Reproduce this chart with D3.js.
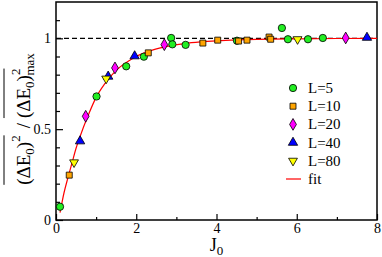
<!DOCTYPE html>
<html>
<head>
<meta charset="utf-8">
<script src="https://cdn.jsdelivr.net/npm/d3@7/dist/d3.min.js"></script>
<style>
body{margin:0;background:#fff;}
svg{display:block;}
svg text{font-family:"Liberation Serif","Times New Roman",serif;}
</style>
</head>
<body>
<svg id="chart"></svg>
<script>
// data
var seriesNames = ["L=5","L=10","L=20","L=40","L=80"];
var L5J  = [0.10,1.01,1.75,2.19,2.87,2.90,3.23,4.51,5.63,5.78,6.28,6.65];
var L5Y  = [0.073,0.68,0.846,0.899,1.002,0.967,0.964,0.987,1.057,0.995,0.995,1.002];
var L10J = [0.33,2.30,3.66,4.03,4.55,4.76,5.31,5.35];
var L10Y = [0.247,0.92,0.974,0.99,0.985,0.99,1.007,0.995];
var L20J = [0.74,1.47,2.70,7.22];
var L20Y = [0.571,0.837,0.965,1.002];
var L40J = [0.60,1.30,1.96,7.75];
var L40Y = [0.434,0.79,0.902,1.004];
var L80J = [0.45,1.25,6.02];
var L80Y = [0.317,0.778,0.995];
var fitJ = [0.1,0.2,0.3,0.4,0.5,0.6,0.8,1.0,1.2,1.4,1.6,1.8,2.0,2.4,2.8,3.2,3.6,4.0,4.5,5,6,7,8];
var fitY = [0.04,0.15,0.235,0.315,0.395,0.46,0.575,0.675,0.745,0.80,0.843,0.874,0.90,0.935,0.957,0.971,0.98,0.986,0.991,0.994,0.997,0.999,1.0];
var xMajor = [0,2,4,6,8];
var xMinor = [1,3,5,7];
var yMajor = [0,0.5,1];
var yMinor = [0.1,0.2,0.3,0.4,0.6,0.7,0.8,0.9,1.1];

var screen = {width:382,height:257};
var margins = {left:56,right:5,top:2,bottom:37};
var graph = {
    width:screen.width-margins.left-margins.right,
    height:screen.height-margins.top-margins.bottom
};

var svg = d3.select("#chart")
    .attr("width",screen.width)
    .attr("height",screen.height);

var xScale = d3.scaleLinear().domain([0,8]).range([0,graph.width]);
var yScale = d3.scaleLinear().domain([0,1.2]).range([graph.height,0]);

var target = svg.append("g")
    .attr("transform","translate("+margins.left+","+margins.top+")");

var zip = function(xs,ys){
    return xs.map(function(x,i){return {x:x,y:ys[i]};});
}

var styles = [
    {name:seriesNames[0],pts:zip(L5J,L5Y),shape:d3.symbolCircle,size:42,color:"#22ee22",rot:0},
    {name:seriesNames[1],pts:zip(L10J,L10Y),shape:d3.symbolSquare,size:36,color:"#ffa500",rot:0},
    {name:seriesNames[2],pts:zip(L20J,L20Y),shape:d3.symbolDiamond,size:40,color:"#ff00ff",rot:0},
    {name:seriesNames[3],pts:zip(L40J,L40Y),shape:d3.symbolTriangle,size:38,color:"#0000ff",rot:0},
    {name:seriesNames[4],pts:zip(L80J,L80Y),shape:d3.symbolTriangle,size:34,color:"#ffff00",rot:180}
];

// dashed reference at 1
target.append("line")
    .attr("x1",0).attr("x2",graph.width)
    .attr("y1",yScale(1)).attr("y2",yScale(1))
    .attr("stroke","#000").attr("stroke-width",1.1)
    .attr("stroke-dasharray","5,3");

// axes with inward ticks
var drawAxes = function()
{
    var xAxis = d3.axisBottom(xScale).tickValues(xMajor).tickSize(-6).tickPadding(3.5).tickFormat(d3.format("d"));
    var xAxisMinor = d3.axisBottom(xScale).tickValues(xMinor).tickSize(-3).tickFormat("");
    var yAxis = d3.axisLeft(yScale).tickValues(yMajor).tickSize(-7).tickPadding(5).tickFormat(function(d){return d===0.5?"0.5":d3.format("d")(d);});
    var yAxisMinor = d3.axisLeft(yScale).tickValues(yMinor).tickSize(-4).tickFormat("");
    [xAxis,xAxisMinor].forEach(function(a){
        target.append("g").attr("transform","translate(0,"+graph.height+")").call(a);
    });
    [yAxis,yAxisMinor].forEach(function(a){
        target.append("g").call(a);
    });
    target.selectAll("g").attr("font-family",null).attr("font-size",null);
    target.selectAll(".domain").remove();
    target.selectAll(".tick line").attr("stroke","#000").attr("stroke-width",1.2);
    target.selectAll(".tick text")
        .attr("fill","#000")
        .attr("font-family","Liberation Serif")
        .style("font-size","14px");
    target.append("rect")
        .attr("width",graph.width).attr("height",graph.height)
        .attr("fill","none").attr("stroke","#000").attr("stroke-width",1.5);
}
drawAxes();

// fit curve
var line = d3.line()
    .x(function(d){return xScale(d.x);})
    .y(function(d){return yScale(d.y);})
    .curve(d3.curveMonotoneX);
target.append("path")
    .datum(zip(fitJ,fitY))
    .attr("d",line)
    .attr("fill","none")
    .attr("stroke","#ff0000")
    .attr("stroke-width",1.2);

// markers
styles.forEach(function(s){
    target.append("g").selectAll("path")
        .data(s.pts)
        .enter()
        .append("path")
        .attr("d",d3.symbol().type(s.shape).size(s.size))
        .attr("transform",function(d){
            return "translate("+xScale(d.x)+","+yScale(d.y)+") rotate("+s.rot+")";
        })
        .attr("fill",s.color)
        .attr("stroke","#000")
        .attr("stroke-width",0.8);
});

// legend
var legend = svg.append("g").attr("transform","translate(293,88)");
var entries = legend.selectAll("g")
    .data(styles)
    .enter()
    .append("g")
    .attr("transform",function(d,i){return "translate(0,"+(i*18.2)+")";});
entries.append("path")
    .attr("d",function(s){return d3.symbol().type(s.shape).size(s.size)();})
    .attr("transform",function(s){return "rotate("+s.rot+")";})
    .attr("fill",function(s){return s.color;})
    .attr("stroke","#000")
    .attr("stroke-width",0.8);
entries.append("text")
    .text(function(s){return s.name;})
    .attr("x",15).attr("y",5)
    .style("font-size","15px");
var fitEntry = legend.append("g").attr("transform","translate(0,"+(5*18.2)+")");
fitEntry.append("line")
    .attr("x1",-7).attr("x2",8).attr("y1",0).attr("y2",0)
    .attr("stroke","#ff0000").attr("stroke-width",1.2);
fitEntry.append("text").text("fit").attr("x",15).attr("y",5).style("font-size","15px");

// axis labels
var xl = svg.append("text")
    .attr("x",margins.left+xScale(4)).attr("y",251)
    .attr("text-anchor","middle")
    .style("font-size","18px");
xl.append("tspan").text("J");
xl.append("tspan").text("0").attr("dy",4).style("font-size","13px");

var yl = svg.append("text")
    .attr("transform","translate(30,119) rotate(-90)")
    .attr("text-anchor","middle")
    .attr("xml:space","preserve")
    .style("font-size","19px");
yl.append("tspan").text("(ΔE");
yl.append("tspan").text("0").attr("dy",4).style("font-size","13px");
yl.append("tspan").text(")").attr("dy",-4);
yl.append("tspan").text("2").attr("dy",-10).style("font-size","13px");
yl.append("tspan").text("/").attr("dx",7).attr("dy",10);
yl.append("tspan").text("(ΔE").attr("dx",5);
yl.append("tspan").text("0").attr("dy",4).style("font-size","13px");
yl.append("tspan").text(")").attr("dy",-4);
yl.append("tspan").text("2").attr("dy",-10).style("font-size","13px");
yl.append("tspan").text("max").attr("dx",-7).attr("dy",14).style("font-size","13px");

// overlines over the two squared terms
var ov = svg.append("g").attr("transform","translate(30,119) rotate(-90)");
var t = yl.node();
var p0 = t.getStartPositionOfChar(0).x;
var p1 = t.getEndPositionOfChar(5).x;
var p2 = t.getStartPositionOfChar(7).x;
var p3 = t.getEndPositionOfChar(12).x;
[[p0,p1],[p2,p3]].forEach(function(r){
    ov.append("line")
        .attr("x1",r[0]).attr("x2",r[1])
        .attr("y1",-26).attr("y2",-26)
        .attr("stroke","#000").attr("stroke-width",1);
});
</script>
</body>
</html>
